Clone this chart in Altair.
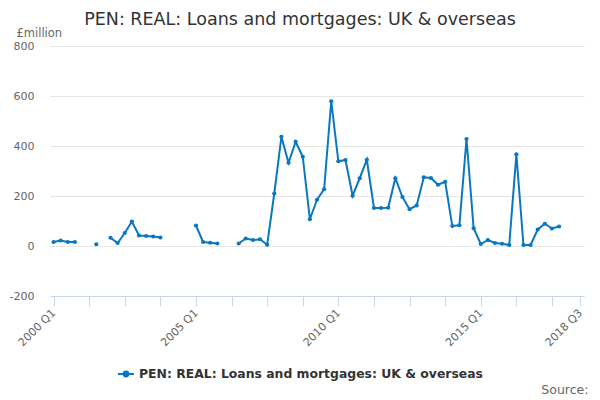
import altair as alt
import pandas as pd

# Quarter labels 2000 Q1 .. 2018 Q3
years = list(range(2000, 2019))
quarters = [f"{y} Q{q}" for y in years for q in (1, 2, 3, 4)][:75]

# Values (£million); None = missing
values = [
    16, 22, 16, 16, None, None, 7, None,
    33, 12, 52, 98, 42, 40, 38, 34,
    None, None, None, None, 82, 16, 13, 10,
    None, None, 10, 30, 24, 27, 5, 210,
    437, 333, 417, 357, 107, 185, 227, 579,
    339, 344, 201, 271, 345, 152, 152, 153,
    271, 196, 147, 162, 275, 272, 245, 257,
    80, 83, 428, 71, 8, 24, 12, 9,
    4, 367, 4, 4, 66, 89, 70, 78,
    None, None, None,
]

tick_quarters = [quarters[i] for i in range(0, 75, 5)] + ["2018 Q3"]
label_quarters = ["2000 Q1", "2005 Q1", "2010 Q1", "2015 Q1", "2018 Q3"]
series_name = "PEN: REAL: Loans and mortgages: UK & overseas"

rows = []
seg = 0
prev_none = True
for q, v in zip(quarters, values):
    if v is None:
        prev_none = True
        continue
    if prev_none:
        seg += 1
    prev_none = False
    rows.append({"quarter": q, "value": v, "seg": seg, "series": series_name})
df = pd.DataFrame(rows)

blue = "#0a78c0"
label_test = " || ".join([f"datum.value == '{l}'" for l in label_quarters])

legend_symbol = "M-1,0L1,0M-0.3,0A0.3,0.3,0,1,1,0.3,0A0.3,0.3,0,1,1,-0.3,0Z"

chart = alt.Chart(df).mark_line(
    strokeWidth=2,
    point=alt.OverlayMarkDef(size=18, filled=True, opacity=1),
).encode(
    x=alt.X(
        "quarter:O",
        scale=alt.Scale(domain=quarters, type="point", padding=0.5),
        axis=alt.Axis(
            values=tick_quarters,
            labelExpr=f"({label_test}) ? datum.value : ''",
            labelAngle=-45,
            labelAlign="right",
            labelBaseline="middle",
            labelPadding=5,
            labelColor="#666666",
            labelFontSize=11,
            labelFont="DejaVu Sans",
            domainColor="#ccd6eb",
            tickColor="#ccd6eb",
            tickSize=10,
            grid=False,
            title="Source:",
            titleX=538,
            titleY=93,
            titleAlign="right",
            titleBaseline="middle",
            titleFontWeight="normal",
            titleColor="#666666",
            titleFontSize=12.5,
            titleFont="DejaVu Sans",
        ),
    ),
    y=alt.Y(
        "value:Q",
        scale=alt.Scale(domain=[-200, 800], nice=False),
        axis=alt.Axis(
            values=[-200, 0, 200, 400, 600, 800],
            labelExpr="toString(datum.value)",
            grid=True,
            gridColor="#e6e6e6",
            domain=False,
            ticks=False,
            labelPadding=16,
            labelColor="#666666",
            labelFontSize=11,
            labelFont="DejaVu Sans",
            title="£million",
            titleAngle=0,
            titleX=-34,
            titleY=-13,
            titleAlign="left",
            titleBaseline="middle",
            titleFontWeight="normal",
            titleColor="#666666",
            titleFontSize=11.5,
            titleFont="DejaVu Sans",
        ),
    ),
    color=alt.Color(
        "series:N",
        scale=alt.Scale(range=[blue]),
        legend=alt.Legend(
            title=None,
            orient="none",
            legendX=67,
            legendY=319,
            symbolType=legend_symbol,
            symbolSize=256,
            symbolStrokeWidth=2,
            symbolFillColor=blue,
            labelFontSize=12.4,
            labelFontWeight="bold",
            labelColor="#333333",
            labelFont="DejaVu Sans",
            labelLimit=600,
        ),
    ),
    detail="seg:N",
).properties(
    width=534,
    height=250,
    title=alt.TitleParams(
        text="PEN: REAL: Loans and mortgages: UK & overseas",
        fontSize=17.5,
        font="DejaVu Sans",
        fontWeight="normal",
        color="#333333",
        anchor="middle",
        dx=-17,
        dy=3,
        offset=2,
    ),
    autosize=alt.AutoSizeParams(type="none"),
    padding={"left": 42, "top": 38, "right": 8, "bottom": 100},
).configure_view(stroke=None)

chart.save("out.html", embed_options={"renderer": "svg", "actions": False})
